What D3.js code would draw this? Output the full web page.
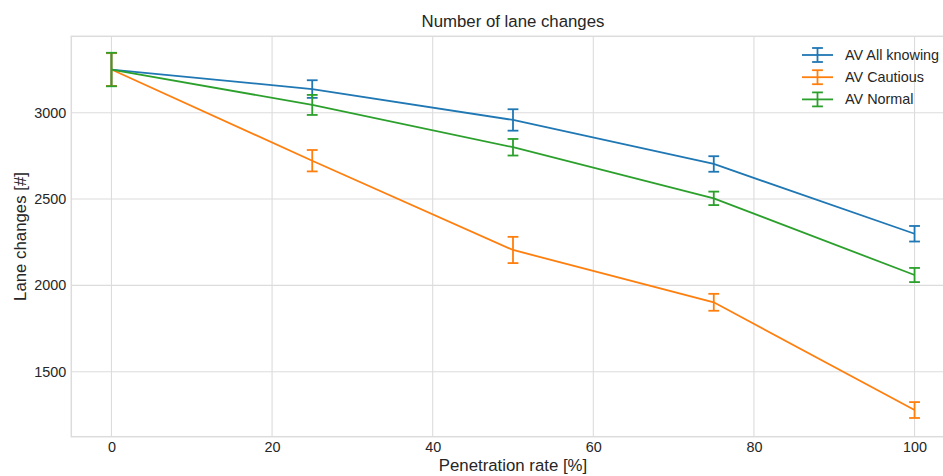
<!DOCTYPE html>
<html>
<head>
<meta charset="utf-8">
<script src="https://cdn.jsdelivr.net/npm/d3@7"></script>
<style>
  html, body { margin: 0; padding: 0; background: #fff; }
  svg { display: block; font-family: "Liberation Sans", Arial, sans-serif; }
</style>
</head>
<body>
<div id="chart"></div>
<script>
// penetration rates and series (mean, std)
const rates = [0, 25, 50, 75, 100];
const seriesNames = ["AV All knowing", "AV Cautious", "AV Normal"];
const allKnowing = [3250, 3137, 2958, 2703, 2299];
const allKnowingErr = [95, 51, 62, 45, 45];
const cautious = [3250, 2722, 2205, 1902, 1278];
const cautiousErr = [95, 62, 76, 49, 46];
const normal = [3250, 3045, 2800, 2504, 2060];
const normalErr = [97, 58, 48, 39, 41];
const xTicks = [0, 20, 40, 60, 80, 100];
const yTicks = [1500, 2000, 2500, 3000];

const colors = ["#1f77b4", "#ff7f0e", "#2ca02c"];

const W = 943, H = 476;
const margin = { left: 71.3, top: 36.3, right: -11.7, bottom: 39.3 };

const svg = d3.select("#chart").append("svg")
  .attr("width", W)
  .attr("height", H);

const x = d3.scaleLinear().domain([-5, 105]).range([margin.left, W - margin.right]);
const y = d3.scaleLinear().domain([1123.6, 3442.5]).range([H - margin.bottom, margin.top]);

const series = [
  { name: seriesNames[0], vals: allKnowing, err: allKnowingErr, color: colors[0] },
  { name: seriesNames[1], vals: cautious, err: cautiousErr, color: colors[1] },
  { name: seriesNames[2], vals: normal, err: normalErr, color: colors[2] }
];

// grid
const grid = svg.append("g");
grid.selectAll("line.gx").data(xTicks).join("line")
  .attr("x1", d => x(d)).attr("x2", d => x(d))
  .attr("y1", margin.top).attr("y2", H - margin.bottom)
  .attr("stroke", "#dcdcdc").attr("stroke-width", 1.1);
grid.selectAll("line.gy").data(yTicks).join("line")
  .attr("y1", d => y(d)).attr("y2", d => y(d))
  .attr("x1", margin.left).attr("x2", W - margin.right)
  .attr("stroke", "#dcdcdc").attr("stroke-width", 1.1);

// spines
svg.append("rect")
  .attr("x", margin.left).attr("y", margin.top)
  .attr("width", x.range()[1] - margin.left)
  .attr("height", H - margin.bottom - margin.top)
  .attr("fill", "none").attr("stroke", "#dcdcdc").attr("stroke-width", 1.5);

// axes (tick labels only)
const xAxis = svg.append("g")
  .attr("transform", `translate(0,${H - margin.bottom})`)
  .call(d3.axisBottom(x).tickValues(xTicks).tickSize(0).tickPadding(5));
const yAxis = svg.append("g")
  .attr("transform", `translate(${margin.left},0)`)
  .call(d3.axisLeft(y).tickValues(yTicks).tickSize(0).tickPadding(5).tickFormat(d3.format("d")));
[xAxis, yAxis].forEach(a => {
  a.select(".domain").remove();
  a.selectAll("text").attr("fill", "#262626").style("font-size", "14.4px");
});

// lines + error bars
const line = d3.line().x(d => x(d.r)).y(d => y(d.v));
const cap = 5.4;
series.forEach(s => {
  const pts = rates.map((r, i) => ({ r, v: s.vals[i], e: s.err[i] }));
  const g = svg.append("g");
  g.append("path").datum(pts)
    .attr("d", line).attr("fill", "none")
    .attr("stroke", s.color).attr("stroke-width", 1.8);
  const eb = g.selectAll("g.eb").data(pts).join("g")
    .attr("stroke", s.color).attr("stroke-width", 1.8);
  eb.append("line")
    .attr("x1", d => x(d.r)).attr("x2", d => x(d.r))
    .attr("y1", d => y(d.v - d.e)).attr("y2", d => y(d.v + d.e));
  eb.append("line")
    .attr("x1", d => x(d.r) - cap).attr("x2", d => x(d.r) + cap)
    .attr("y1", d => y(d.v + d.e)).attr("y2", d => y(d.v + d.e));
  eb.append("line")
    .attr("x1", d => x(d.r) - cap).attr("x2", d => x(d.r) + cap)
    .attr("y1", d => y(d.v - d.e)).attr("y2", d => y(d.v - d.e));
});

// legend
const legend = svg.append("g").attr("transform", "translate(802,55)");
const items = legend.selectAll("g").data(series).join("g")
  .attr("transform", (d, i) => `translate(0,${i * 22.2})`);
items.append("line").attr("x1", 0).attr("x2", 31).attr("y1", 0).attr("y2", 0)
  .attr("stroke", d => d.color).attr("stroke-width", 1.8);
items.append("line").attr("x1", 15.5).attr("x2", 15.5).attr("y1", -7).attr("y2", 7)
  .attr("stroke", d => d.color).attr("stroke-width", 1.8);
items.append("line").attr("x1", 15.5 - cap).attr("x2", 15.5 + cap).attr("y1", -7).attr("y2", -7)
  .attr("stroke", d => d.color).attr("stroke-width", 1.8);
items.append("line").attr("x1", 15.5 - cap).attr("x2", 15.5 + cap).attr("y1", 7).attr("y2", 7)
  .attr("stroke", d => d.color).attr("stroke-width", 1.8);
items.append("text").attr("x", 43).attr("y", 0).attr("dy", "0.35em")
  .attr("fill", "#262626").style("font-size", "14.4px")
  .text(d => d.name);

// title and axis labels
const cx = (x.range()[0] + x.range()[1]) / 2;
svg.append("text")
  .attr("x", cx).attr("y", 27)
  .attr("text-anchor", "middle")
  .attr("fill", "#262626").style("font-size", "16.8px")
  .text("Number of lane changes");
svg.append("text")
  .attr("x", cx).attr("y", 471)
  .attr("text-anchor", "middle")
  .attr("fill", "#262626").style("font-size", "16.8px")
  .text("Penetration rate [%]");
svg.append("text")
  .attr("transform", `translate(26,${(margin.top + H - margin.bottom) / 2}) rotate(-90)`)
  .attr("text-anchor", "middle")
  .attr("fill", "#262626").style("font-size", "16.8px")
  .text("Lane changes [#]");
</script>
</body>
</html>
